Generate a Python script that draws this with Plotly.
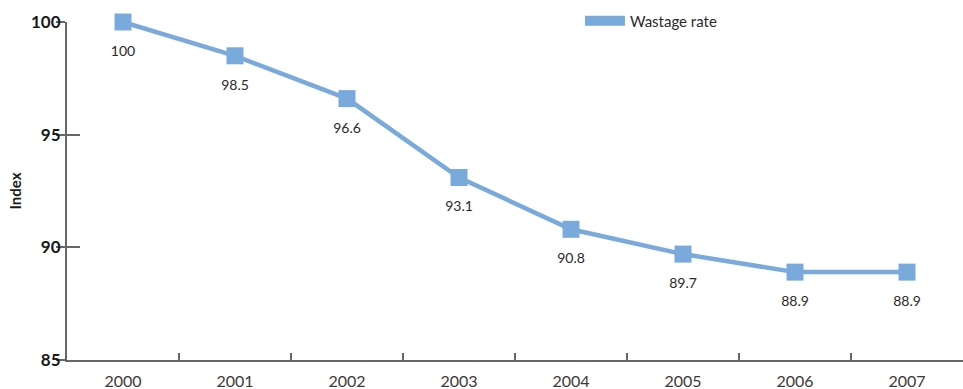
import plotly.graph_objects as go

# Wastage rate index, 2000 = 100
years = ["2000", "2001", "2002", "2003", "2004", "2005", "2006", "2007"]
wastage_index = [100, 98.5, 96.6, 93.1, 90.8, 89.7, 88.9, 88.9]
labels = ["100", "98.5", "96.6", "93.1", "90.8", "89.7", "88.9", "88.9"]
y_ticks = [85, 90, 95, 100]

BLUE = "#7aaadb"
AXIS = "#666666"
FONT = "Lato, Noto Sans, sans-serif"

fig = go.Figure()

fig.add_trace(go.Scatter(
    x=years, y=wastage_index,
    mode="lines+markers",
    line=dict(color=BLUE, width=4.5),
    marker=dict(symbol="square", size=17, color=BLUE),
    cliponaxis=False,
    showlegend=False,
))

# value labels, pushed below the markers by a wider transparent marker
fig.add_trace(go.Scatter(
    x=years, y=wastage_index,
    mode="markers+text",
    marker=dict(size=36, opacity=0),
    text=labels, textposition="bottom center",
    textfont=dict(family=FONT, size=14, color="#2a2a2a"),
    cliponaxis=False, showlegend=False, hoverinfo="skip",
))

# legend swatch
fig.add_trace(go.Scatter(
    x=[None], y=[None], mode="lines",
    line=dict(color=BLUE, width=16),
    name="Wastage rate",
))

# inner half of the crossing y ticks
fig.add_trace(go.Scatter(x=years, y=[None] * len(years), yaxis="y2",
                         showlegend=False, hoverinfo="skip"))

fig.update_layout(
    width=963, height=389,
    margin=dict(l=67, r=0, t=22, b=29),
    plot_bgcolor="white", paper_bgcolor="white",
    font=dict(family=FONT, color="#2a2a2a"),
    xaxis=dict(
        type="category", tickson="boundaries", automargin=False,
        ticks="inside", ticklen=7, tickwidth=1.5, tickcolor=AXIS,
        showline=True, linecolor=AXIS, linewidth=2,
        showgrid=False, zeroline=False,
        tickfont=dict(size=16, color="#3a3a3a"),
        ticklabelstandoff=6,
        range=[-0.5, 7.5],
    ),
    yaxis=dict(
        range=[85, 100], tickvals=y_ticks, automargin=False,
        ticks="outside", ticklen=9, tickwidth=1.5, tickcolor=AXIS,
        showline=True, linecolor=AXIS, linewidth=2,
        showgrid=False, zeroline=False,
        tickfont=dict(size=17, color="#1a1a1a", weight="bold"),
        ticklabelstandoff=-8,
        title=dict(text="Index", font=dict(size=15, weight="bold", color="#1a1a1a"), standoff=6),
    ),
    yaxis2=dict(
        overlaying="y", range=[85, 100], tickvals=y_ticks, automargin=False,
        ticks="inside", ticklen=13, tickwidth=1.5, tickcolor=AXIS,
        showticklabels=False, showgrid=False, zeroline=False,
        showline=False, side="left",
    ),
    legend=dict(
        x=0.5725, y=1.003, yref="paper",
        xanchor="left", yanchor="middle",
        font=dict(size=15, color="#2a2a2a"),
        bgcolor="rgba(0,0,0,0)", itemwidth=40,
    ),
)

fig.write_html("out.html")
